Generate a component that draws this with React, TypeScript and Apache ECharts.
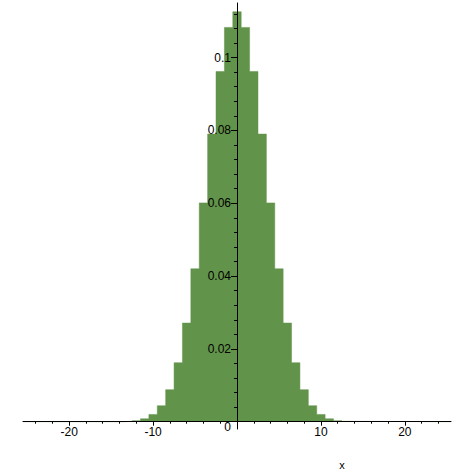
import React, { useEffect, useRef } from "react";
import * as echarts from "echarts";

// Histogram-like step distribution: value at each integer bin centre (bin width 1)
const binCenters = [-13, -12, -11, -10, -9, -8, -7, -6, -5, -4, -3, -2, -1, 0, 1, 2, 3, 4, 5, 6, 7, 8, 9, 10, 11, 12, 13];
const binValues = [
  0.0001, 0.0003, 0.0008, 0.002, 0.0044, 0.0088, 0.0162, 0.0271, 0.042, 0.0601, 0.079, 0.0962, 0.1083,
  0.1126,
  0.1083, 0.0962, 0.079, 0.0601, 0.042, 0.0271, 0.0162, 0.0088, 0.0044, 0.002, 0.0008, 0.0003, 0.0001,
];

const xRange = [-25.5, 25.5];
const yRange = [-0.002, 0.115];
const xLabelValues = [-20, -10, 10, 20];
const xMajorTicks = [-20, -10, 0, 10, 20];
const xMinorTicks = [-24, -22, -18, -16, -14, -12, -8, -6, -4, -2, 2, 4, 6, 8, 12, 14, 16, 18, 22, 24];
const yLabelValues = [0, 0.02, 0.04, 0.06, 0.08, 0.1];
const yMinorTicks = Array.from({ length: 28 }, (_, i) => +((i + 1) * 0.004).toFixed(3));

const FILL = "#62934a";
const FONT = "Liberation Sans, Arial, sans-serif";
const W = 474;
const H = 474;
const GRID = { left: 23, right: 23, top: 3, bottom: 45 };

export default function App() {
  const ref = useRef<HTMLDivElement>(null);
  useEffect(() => {
    if (!ref.current) return;
    const chart = echarts.init(ref.current, undefined, { renderer: "svg" });
    const stepData: [number, number][] = [[xRange[0], 0], [binCenters[0] - 0.5, 0]];
    binCenters.forEach((c, i) => {
      stepData.push([c - 0.5, binValues[i]]);
      stepData.push([c + 0.5, binValues[i]]);
    });
    stepData.push([binCenters[binCenters.length - 1] + 0.5, 0]);
    stepData.push([xRange[1], 0]);

    // place axes through the origin (computed from the ranges)
    const gw = W - GRID.left - GRID.right;
    const gh = H - GRID.top - GRID.bottom;
    const yAxisOffset = -((0 - xRange[0]) / (xRange[1] - xRange[0])) * gw;
    const xAxisOffset = -((0 - yRange[0]) / (yRange[1] - yRange[0])) * gh;

    const baseX = {
      type: "value",
      min: xRange[0],
      max: xRange[1],
      position: "bottom",
      offset: xAxisOffset,
      splitLine: { show: false },
      z: 5,
    };
    const baseY = {
      type: "value",
      min: yRange[0],
      max: yRange[1],
      position: "left",
      offset: yAxisOffset,
      splitLine: { show: false },
      z: 5,
    };

    chart.setOption({
      animation: false,
      backgroundColor: "#ffffff",
      grid: { ...GRID, outerBoundsMode: "none", containLabel: false },
      xAxis: [
        {
          ...baseX,
          axisLine: { show: true, onZero: false, lineStyle: { color: "#000", width: 1 } },
          axisTick: { show: true, customValues: xMajorTicks, length: 4, lineStyle: { color: "#000" } },
          axisLabel: {
            show: true,
            customValues: xLabelValues,
            margin: 4,
            color: "#000",
            fontSize: 12,
            fontFamily: FONT,
          },
          name: "x",
          nameLocation: "middle",
          nameGap: 38,
          nameTextStyle: { color: "#000", fontSize: 11, fontFamily: FONT, padding: [0, 0, 0, 210] },
        },
        {
          ...baseX,
          axisLine: { show: false, onZero: false },
          axisTick: { show: true, customValues: xMinorTicks, length: 2, lineStyle: { color: "#000" } },
          axisLabel: { show: false },
        },
      ],
      yAxis: [
        {
          ...baseY,
          axisLine: { show: true, onZero: false, lineStyle: { color: "#000", width: 1 } },
          axisTick: { show: true, customValues: yLabelValues.slice(1), length: 6, lineStyle: { color: "#000" } },
          axisLabel: {
            show: true,
            customValues: yLabelValues,
            margin: 6,
            color: "#000",
            fontSize: 12,
            fontFamily: FONT,
            formatter: (v: number) => (v === 0 ? "{z|0}" : String(v)),
            rich: { z: { padding: [11, 0, 0, 0], fontSize: 12, fontFamily: FONT, color: "#000" } },
          },
        },
        {
          ...baseY,
          axisLine: { show: false, onZero: false },
          axisTick: { show: true, customValues: yMinorTicks, length: 3, lineStyle: { color: "#000" } },
          axisLabel: { show: false },
        },
      ],
      series: [
        {
          type: "line",
          xAxisIndex: 0,
          yAxisIndex: 0,
          data: stepData,
          showSymbol: false,
          symbol: "none",
          lineStyle: { width: 0.5, color: FILL },
          areaStyle: { color: FILL, opacity: 1, origin: "auto" },
          z: 1,
        },
      ],
    });
    return () => chart.dispose();
  }, []);
  return (
    <div
      ref={ref}
      style={{ position: "fixed", left: 0, top: 0, width: W, height: H, background: "#fff" }}
    />
  );
}
